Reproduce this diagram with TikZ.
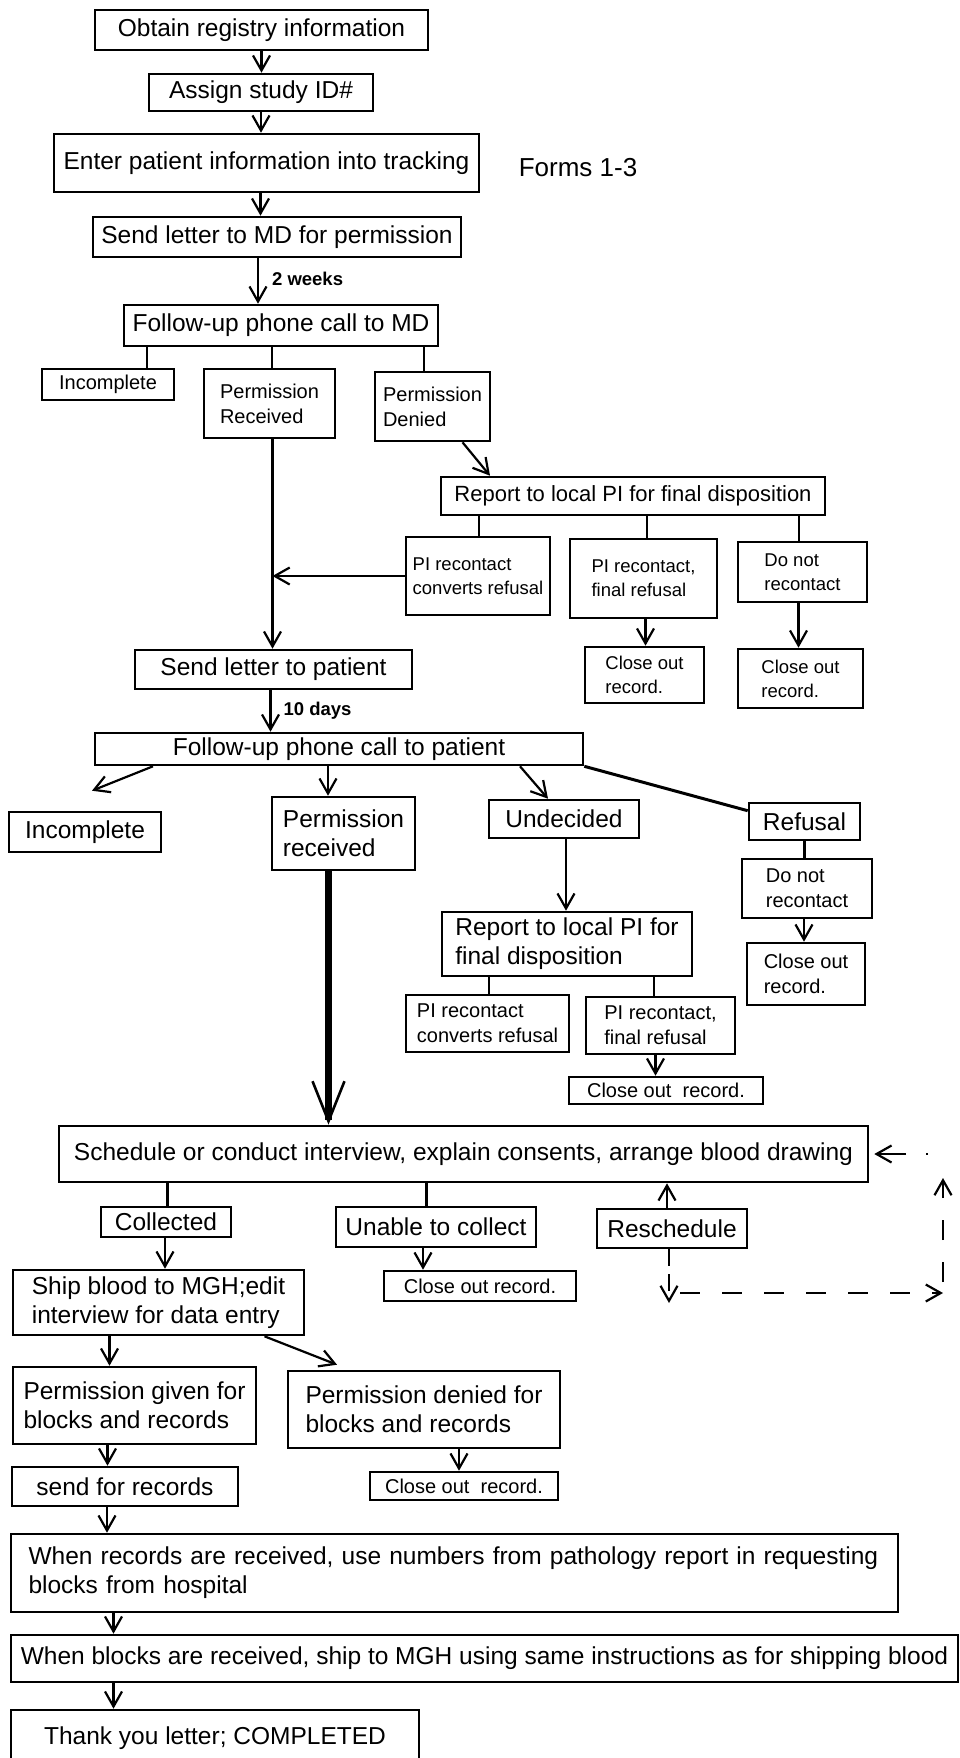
\documentclass[tikz,border=0pt]{standalone}
\usepackage{fontspec}
\setmainfont{Liberation Sans}
\usepackage{tikz}
\usetikzlibrary{arrows.meta, positioning}

\begin{document}
\begin{tikzpicture}[
  x=1pt, y=-1pt,
  box/.style={rectangle, draw, line width=2.6pt, inner sep=0pt, align=left,
              font=\fontsize{24.5}{29}\selectfont},
  sbox/.style={box, font=\fontsize{20}{25}\selectfont},
  tbox/.style={box, font=\fontsize{18.5}{24}\selectfont},
  wh/.style 2 args={minimum width=#1pt, minimum height=#2pt},
  arr/.style={-{Straight Barb[length=15pt, width=17pt]}, line width=2.2pt},
  link/.style={line width=2.2pt},
  lbl/.style={anchor=west, inner sep=0pt, xshift=13pt,
              font=\bfseries\fontsize{18.5}{22}\selectfont},
  dpat/.style={dash pattern=on 20pt off 22pt}
]
  \path[use as bounding box, fill=white] (0,0) rectangle (960,1758);

  % MD permission
  \node[box, wh={333}{40}] (obtain) at (261.5,30) {Obtain registry information};
  \node[box, wh={224}{37}] (assign) at (261,92.5) {Assign study ID\#};
  \node[box, wh={425}{58}] (enter) at (266.5,163) {Enter patient information into tracking};
  \node[font=\fontsize{26}{30}\selectfont] (forms) at (578,168) {Forms 1-3};
  \node[box, wh={368}{40}] (sendmd) at (277,237) {Send letter to MD for permission};
  \node[box, wh={314}{41}] (fumd) at (281,325.5) {Follow-up phone call to MD};
  \node[sbox, wh={132}{31}] (incomp1) at (108,384.5) {Incomplete};
  \node[sbox, wh={131}{69}] (permrec1) at (269.5,403.5) {Permission\\Received};
  \node[sbox, wh={115}{69}] (permden1) at (432.5,406.5) {Permission\\Denied};
  \node[box, wh={384}{38}, font=\fontsize{22}{26}\selectfont] (report1) at (633,496)
    {Report to local PI for final disposition};
  \node[tbox, wh={144}{78}] (pirc1) at (478,576) {PI recontact\\converts refusal};
  \node[tbox, wh={147}{79}] (pirf1) at (643.5,578.5) {PI recontact,\\final refusal};
  \node[tbox, wh={129}{60}] (dnr1) at (802.5,572) {Do not\\recontact};
  \node[tbox, wh={119}{56}] (close1) at (644.5,675) {Close out\\record.};
  \node[tbox, wh={125}{59}] (close2) at (800.5,678.5) {Close out\\record.};

  % patient contact
  \node[box, wh={277}{39}] (sendpt) at (273.5,669.5) {Send letter to patient};
  \node[box, wh={488}{32}] (fupt) at (339,749) {Follow-up phone call to patient};
  \node[box, wh={152}{40}] (incomp2) at (85,832) {Incomplete};
  \node[box, wh={143}{73}] (permrec2) at (343.5,833.5) {Permission\\received};
  \node[box, wh={150}{38}] (undecided) at (564,819) {Undecided};
  \node[box, wh={111}{37}] (refusal) at (804.5,821.5) {Refusal};
  \node[sbox, wh={130}{59}] (dnr2) at (807,888.5) {Do not\\recontact};
  \node[sbox, wh={118}{62}] (close4) at (806,974) {Close out\\record.};
  \node[box, wh={250}{64}] (report2) at (567,944) {Report to local PI for\\final disposition};
  \node[sbox, wh={163}{57}] (pirc2) at (487.5,1023.5) {PI recontact\\converts refusal};
  \node[sbox, wh={149}{57}] (pirf2) at (660.5,1025.5) {PI recontact,\\final refusal};
  \node[sbox, wh={194}{27}] (close3) at (666,1090.5) {Close out\ \ record.};

  % interview and blood
  \node[box, wh={809}{56}] (schedule) at (463.5,1154)
    {Schedule or conduct interview, explain consents, arrange blood drawing};
  \node[box, wh={130}{30}] (collected) at (166,1222) {Collected};
  \node[box, wh={200}{40}] (unable) at (436,1227) {Unable to collect};
  \node[box, wh={150}{39}] (reschedule) at (672,1228.5) {Reschedule};
  \node[sbox, wh={192}{30}] (close5) at (480,1286) {Close out record.};
  \node[box, wh={291}{65}] (ship) at (158.5,1302.5) {Ship blood to MGH;edit\\interview for data entry};
  \node[box, wh={243}{77}] (pgiven) at (134.5,1405.5) {Permission given for\\blocks and records};
  \node[box, wh={272}{77}] (pdenied) at (424,1409.5) {Permission denied for\\blocks and records};
  \node[box, wh={226}{39}] (sendrec) at (125,1486.5) {send for records};
  \node[sbox, wh={188}{28}] (close6) at (464,1486) {Close out\ \ record.};
  \node[box, wh={887}{78}, text width=852pt] (recv) at (454.5,1573)
    {When records are received, use numbers from pathology report in requesting\\blocks from hospital};
  \node[box, wh={947}{47}] (blocks) at (484.5,1658.5)
    {When blocks are received, ship to MGH using same instructions as for shipping blood};
  \node[box, wh={408}{56}] (thanks) at (215,1738) {Thank you letter; COMPLETED};

  \coordinate (rsdn) at (669,1303);
  \coordinate (rsl)  at (680,1293);
  \coordinate (rsr)  at (943,1293);
  \coordinate (rsb)  at (943,1282);
  \coordinate (rst)  at (943,1178);
  \coordinate (rsbk) at (928,1154);

  % straight down arrows
  \foreach \a/\b/\d in {obtain/assign/0, assign/enter/0, enter/sendmd/-6,
      pirf1/close1/2, dnr1/close2/-4, fupt/permrec2/-11, undecided/report2/2,
      dnr2/close4/-3, pirf2/close3/-5, collected/ship/-1, unable/close5/-13,
      ship/pgiven/-49, pgiven/sendrec/-27, pdenied/close6/35, sendrec/recv/-18,
      recv/blocks/-341, blocks/thanks/-371}
    \draw[arr] ([xshift=\d pt]\a.south) coordinate (p) -- (p |- \b.north);

  % plain branch lines
  \foreach \a/\b/\d in {fumd/incomp1/-134, fumd/permrec1/-9, fumd/permden1/143,
      report1/pirc1/-154, report1/pirf1/14, report1/dnr1/166,
      report2/pirc2/-78, report2/pirf2/87, refusal/dnr2/0,
      schedule/collected/-296, schedule/unable/-37}
    \draw[link] ([xshift=\d pt]\a.south) coordinate (p) -- (p |- \b.north);

  \draw[arr] ([xshift=-19pt]sendmd.south) coordinate (p)
    -- node[lbl, pos=0.45] {2 weeks} (p |- fumd.north);
  \draw[arr] ([xshift=-3pt]sendpt.south) coordinate (p)
    -- node[lbl, pos=0.5, xshift=-1pt] {10 days} (p |- fupt.north);

  \draw[arr] ([xshift=30pt]permden1.south) -- ([xshift=-143pt]report1.north);
  \draw[arr] ([xshift=3pt]permrec1.south) coordinate (prline) -- (prline |- sendpt.north);
  \draw[arr] (pirc1.west) -- (prline |- pirc1.west);

  \draw[arr] ([xshift=-186pt]fupt.south) -- ([xshift=7pt, yshift=20pt]incomp2.north);
  \draw[arr] ([xshift=181pt]fupt.south) -- ([xshift=-16pt]undecided.north);
  \draw[link, line width=3pt] (fupt.south east) -- ([yshift=-9pt]refusal.north west);

  \draw[line width=7pt, -{Straight Barb[length=40pt, width=32pt, line width=2.6pt]}]
    ([xshift=-15pt]permrec2.south) coordinate (p) -- (p |- schedule.north);

  \draw[arr] ([xshift=-5pt]reschedule.north) coordinate (p) -- (p |- schedule.south);
  \draw[arr, dash pattern=on 17pt off 8pt] ([xshift=-3pt]reschedule.south) -- (rsdn);
  \draw[arr, dpat] (rsl) -- (rsr);
  \draw[arr, dpat] (rsb) -- (rst);
  \draw[arr, dash pattern=on 2pt off 20pt on 40pt] (rsbk) -- ([xshift=5pt]schedule.east);

  \draw[arr] ([xshift=106pt]ship.south) -- ([xshift=-87pt, yshift=5pt]pdenied.north);
\end{tikzpicture}
\end{document}
